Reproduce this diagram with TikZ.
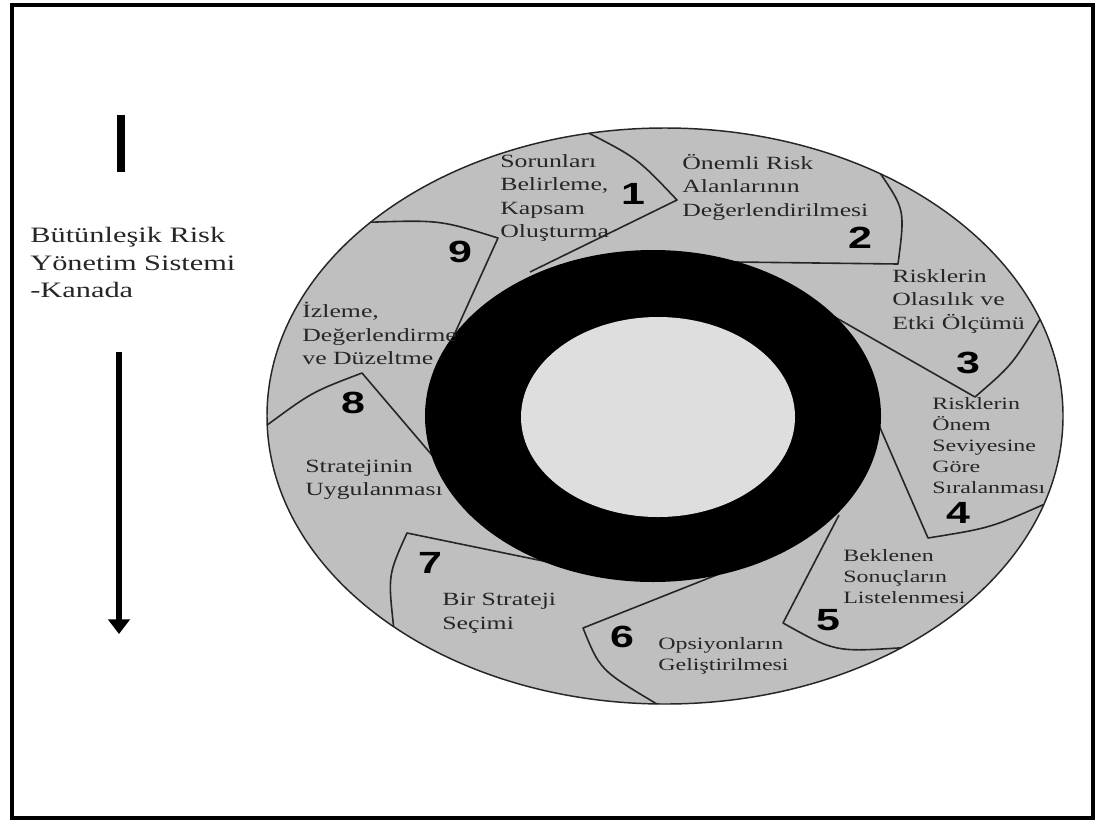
\documentclass[tikz,border=0pt]{standalone}
\usepackage{fontspec}
\setmainfont{Liberation Serif}
\newfontfamily\numfont{Liberation Sans}
\usetikzlibrary{arrows.meta}
\definecolor{ringgray}{gray}{0.75}
\definecolor{innergray}{gray}{0.87}
\definecolor{ink}{gray}{0.15}
\begin{document}
\begin{tikzpicture}[x=0.75pt,y=-0.75pt,
  steptext/.style={font=\fontsize{14}{17.6}\selectfont, align=left, anchor=west, inner sep=0pt, xscale=1.38, text=ink},
  smalltext/.style={steptext, font=\fontsize{13}{15.9}\selectfont},
  titletext/.style={font=\fontsize{16.5}{20.6}\selectfont, align=left, anchor=west, inner sep=0pt, xscale=1.38, text=ink},
  stepnum/.style={font=\numfont\bfseries\fontsize{23}{23}\selectfont, inner sep=0pt, xscale=1.4, text=black},
  blade/.style={draw=ink, line width=1.2pt, line join=round}]
\useasboundingbox (0,0) rectangle (1102,825);
\fill[white] (0,0) rectangle (1102,825);
\draw[line width=3pt] (12,5) rectangle (1093,818);

% outer gray disc
\draw[ink, line width=1.1pt, fill=ringgray] (665,416) ellipse [x radius=398, y radius=288];

% blade boundaries: outer point, tip, ring point
\coordinate (O1) at (589.1,133.3);  \coordinate (T1) at (677,200); \coordinate (R1) at (530,272);
\coordinate (O2) at (880.6,173.9);  \coordinate (T2) at (898,264); \coordinate (R2) at (735,262);
\coordinate (O3) at (1040.0,319.4); \coordinate (T3) at (975,397); \coordinate (R3) at (833,316);
\coordinate (O4) at (1043.7,504.5); \coordinate (T4) at (928,538); \coordinate (R4) at (878,423);
\coordinate (O5) at (901.2,647.8);  \coordinate (T5) at (783,623); \coordinate (R5) at (839,515);
\coordinate (O6) at (656.7,703.9);  \coordinate (T6) at (583,628); \coordinate (R6) at (719,574);
\coordinate (O7) at (393.6,626.6);  \coordinate (T7) at (407,533); \coordinate (R7) at (548,562);
\coordinate (O8) at (267.2,425.0);  \coordinate (T8) at (362,373); \coordinate (R8) at (437,461);
\coordinate (O9) at (370.6,222.2);  \coordinate (T9) at (498,238); \coordinate (R9) at (450,344);

\draw[blade] (O1) .. controls (637,158) .. (T1) -- (R1);
\draw[blade] (O2) .. controls (905,210) .. (T2) -- (R2);
\draw[blade] (O3) .. controls (1012,365) .. (T3) -- (R3);
\draw[blade] (O4) .. controls (990,528) .. (T4) -- (R4);
\draw[blade] (O5) .. controls (835,652) .. (T5) -- (R5);
\draw[blade] (O6) .. controls (600,670) .. (T6) -- (R6);
\draw[blade] (O7) .. controls (388,575) .. (T7) -- (R7);
\draw[blade] (O8) .. controls (312,392) .. (T8) -- (R8);
\draw[blade] (O9) .. controls (440,220) .. (T9) -- (R9);

% black ring and inner disc
\fill[black] (653,416) ellipse [x radius=228, y radius=166];
\fill[innergray] (658,417) ellipse [x radius=137, y radius=100];

% step texts
\node[steptext] (s1) at (500,198) {Sorunları\\Belirleme,\\Kapsam\\Oluşturma};
\node[steptext] (s2) at (682,187) {Önemli Risk\\Alanlarının\\Değerlendirilmesi};
\node[steptext] (s3) at (892,301.5) {Risklerin\\Olasılık ve\\Etki Ölçümü};
\node[smalltext] (s4) at (932,445.5) {Risklerin\\Önem\\Seviyesine\\Göre\\Sıralanması};
\node[smalltext] (s5) at (843,576.5) {Beklenen\\Sonuçların\\Listelenmesi};
\node[smalltext] (s6) at (658,656) {Opsiyonların\\Geliştirilmesi};
\node[steptext] (s7) at (442,613.5) {Bir Strateji\\Seçimi};
\node[steptext] (s8) at (305,480) {Stratejinin\\Uygulanması};
\node[steptext] (s9) at (302,333.5) {İzleme,\\Değerlendirme\\ve Düzeltme};

% step numbers
\node[stepnum] (n1) at (633,194) {1};
\node[stepnum] (n2) at (860,238) {2};
\node[stepnum] (n3) at (968,363) {3};
\node[stepnum] (n4) at (958,513) {4};
\node[stepnum] (n5) at (828,620) {5};
\node[stepnum] (n6) at (622,637) {6};
\node[stepnum] (n7) at (430,563) {7};
\node[stepnum] (n8) at (353,403) {8};
\node[stepnum] (n9) at (460,252) {9};

% left side
\node[titletext] (title) at (30,262.5) {Bütünleşik Risk\\Yönetim Sistemi\\-Kanada};
\coordinate (barTop) at (121,115);
\coordinate (barBot) at (121,172);
\draw[line width=6pt] (barTop) -- (barBot);
\coordinate (arTop) at (119,352);
\coordinate (arBot) at (119,634);
\draw[line width=3.8pt, -{Triangle[width=16pt,length=11pt]}] (arTop) -- (arBot);
\end{tikzpicture}
\end{document}
